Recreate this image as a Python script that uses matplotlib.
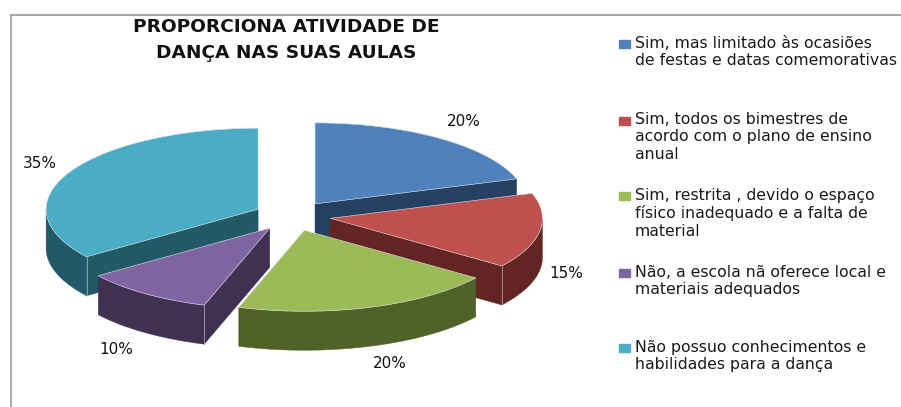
import numpy as np
import matplotlib
matplotlib.use('Agg')
import matplotlib.pyplot as plt

categories = [
    'Sim, mas limitado às ocasiões\nde festas e datas comemorativas',
    'Sim, todos os bimestres de\nacordo com o plano de ensino\nanual',
    'Sim, restrita , devido o espaço\nfísico inadequado e a falta de\nmaterial',
    'Não, a escola nã oferece local e\nmateriais adequados',
    'Não possuo conhecimentos e\nhabilidades para a dança',
]
values = [20, 15, 20, 10, 35]
title = 'PROPORCIONA ATIVIDADE DE\nDANÇA NAS SUAS AULAS'
top_colors = ['#4F81BD', '#C0504D', '#9BBB59', '#8064A2', '#4BACC6']
side_colors = ['#254061', '#632523', '#4F6228', '#403152', '#215968']

# pie geometry, pixels
cx, cy = 292.4, 216
rx, ry = 212, 81
ex, ey = 38.5, 15
depth = 39

label_xy = [(464, 122), (566, 273), (390, 364), (116, 349), (40, 163)]
marker_top = [40, 117, 192, 269, 344]
legend_line1 = [44, 120, 196, 273, 348]

fig = plt.figure(figsize=(9.01, 4.07), dpi=100)
ax = fig.add_axes([0, 0, 1, 1])
ax.set_xlim(0, 901)
ax.set_ylim(407, 0)
ax.axis('off')


def arc(x0, y0, a, b):
    t = np.radians(np.linspace(a, b, 80))
    return x0 + rx * np.sin(t), y0 - ry * np.cos(t)


def draw_slice(i, a, b):
    mid = np.radians((a + b) / 2)
    x0 = cx + ex * np.sin(mid)
    y0 = cy - ey * np.cos(mid)
    # flat side of the slice, only if it looks at the viewer
    corners = []
    if np.sin(np.radians(b)) > 0:
        corners.append(b)
    if np.sin(np.radians(a)) < 0:
        corners.append(a)
    for ang in corners:
        xe, ye = arc(x0, y0, ang, ang)
        ax.fill([x0, xe[0], xe[0], x0], [y0, ye[0], ye[0] + depth, y0 + depth],
                color=side_colors[i], lw=0.3)
    # outer rim, front half only
    lo, hi = max(a, 90), min(b, 270)
    if lo < hi:
        xr, yr = arc(x0, y0, lo, hi)
        ax.fill(np.r_[xr, xr[::-1]], np.r_[yr, yr[::-1] + depth],
                color=side_colors[i], lw=0.3)
        for ang in corners:
            xe, ye = arc(x0, y0, ang, ang)
            ax.plot([xe[0], xe[0]], [ye[0], ye[0] + depth], color='#b5b5b5', lw=0.5)
    xt, yt = arc(x0, y0, a, b)
    ax.fill(np.r_[x0, xt], np.r_[y0, yt], facecolor=top_colors[i],
            edgecolor='#e4e4e4', lw=0.4)


edges = np.r_[0, np.cumsum(values)] * 360.0 / sum(values)
for i in [0, 4, 1, 3, 2]:
    draw_slice(i, edges[i], edges[i + 1])

for v, (x, y) in zip(values, label_xy):
    ax.text(x, y, str(v) + '%', ha='center', va='center', fontsize=11, color='#111111')

ax.text(286, 40, title, ha='center', va='center', fontsize=13.3, fontweight='bold',
        color='#111111', linespacing=1.5)

for i, name in enumerate(categories):
    ax.add_patch(plt.Rectangle((619, marker_top[i]), 11, 8, color=top_colors[i]))
    ax.text(635, legend_line1[i] - 8, name, ha='left', va='top', fontsize=11.3,
            color='#1a1a1a', linespacing=1.19, clip_on=True)

# chart frame
ax.plot([10.5, 10.5], [407, 14.5], color='#9a9a9a', lw=1.2)
ax.plot([10.5, 901], [14.5, 14.5], color='#9a9a9a', lw=1.2)

fig.savefig('out.png', dpi=100)
